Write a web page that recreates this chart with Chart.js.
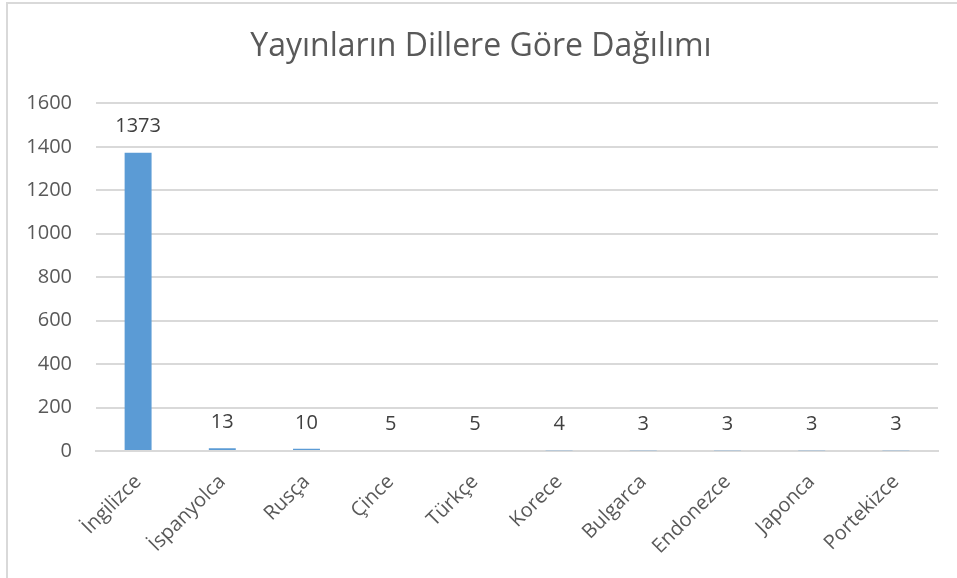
<!DOCTYPE html>
<html>

<head>
  <meta charset="UTF-8">
  <title>Yayınların Dillere Göre Dağılımı</title>
  <script src="https://cdn.jsdelivr.net/npm/chart.js"></script>
  <style>
    body {
      margin: 0;
      background: white;
      overflow: hidden;
    }

    #frame {
      position: absolute;
      left: 6px;
      top: 2px;
      width: 1000px;
      height: 700px;
      border: 2px solid #d9d9d9;
    }

    #myChart {
      position: absolute;
      left: 0;
      top: 0;
    }
  </style>
</head>

<body>
  <div id="frame"></div>
  <canvas id="myChart" width="957" height="578"></canvas>

  <script>
    // values
    const diller = ['İngilizce', 'İspanyolca', 'Rusça', 'Çince', 'Türkçe', 'Korece', 'Bulgarca', 'Endonezce', 'Japonca', 'Portekizce'];
    const yayinSayisi = [1373, 13, 10, 5, 5, 4, 3, 3, 3, 3];
    const baslik = 'Yayınların Dillere Göre Dağılımı';

    const fontAdi = '"Open Sans", "Noto Sans", sans-serif';

    // value labels above the bars
    const degerYaz = {
      id: 'degerYaz',
      afterDatasetsDraw(chart) {
        const ctx = chart.ctx;
        const meta = chart.getDatasetMeta(0);
        ctx.save();
        ctx.font = '20px ' + fontAdi;
        ctx.fillStyle = '#404040';
        ctx.textAlign = 'center';
        ctx.textBaseline = 'middle';
        meta.data.forEach((bar, i) => {
          ctx.fillText(yayinSayisi[i], bar.x, bar.y - 26);
        });
        ctx.restore();
      }
    };

    const data = {
      labels: diller,
      datasets: [{
        data: yayinSayisi,
        backgroundColor: '#5b9bd5',
        borderWidth: 0,
        barPercentage: 0.32,
        categoryPercentage: 1
      }]
    };

    const options = {
      responsive: false,
      animation: false,
      layout: {
        padding: { left: 24, right: 19, top: 0, bottom: 0 }
      },
      plugins: {
        legend: { display: false },
        tooltip: { enabled: false },
        title: {
          display: true,
          text: baslik,
          color: '#595959',
          font: { family: fontAdi, size: 32, weight: 'normal' },
          padding: { top: 28, bottom: 37 }
        }
      },
      scales: {
        x: {
          grid: { display: false, drawTicks: false },
          border: { color: '#d9d9d9', width: 2 },
          afterFit(scale) {
            scale.height = 127;
          },
          ticks: {
            color: '#595959',
            font: { family: fontAdi, size: 20 },
            maxRotation: 45,
            minRotation: 45,
            padding: 19
          }
        },
        y: {
          min: 0,
          max: 1600,
          grid: { color: '#d9d9d9', lineWidth: 2, drawTicks: false },
          border: { display: false },
          afterFit(scale) {
            scale.width = 72;
          },
          ticks: {
            stepSize: 200,
            color: '#595959',
            font: { family: fontAdi, size: 20 },
            padding: 24,
            callback: (v) => String(v)
          }
        }
      }
    };

    const ctx = document.getElementById('myChart').getContext('2d');
    const myChart = new Chart(ctx, {
      type: 'bar',
      data: data,
      options: options,
      plugins: [degerYaz]
    });
  </script>

</body>

</html>
